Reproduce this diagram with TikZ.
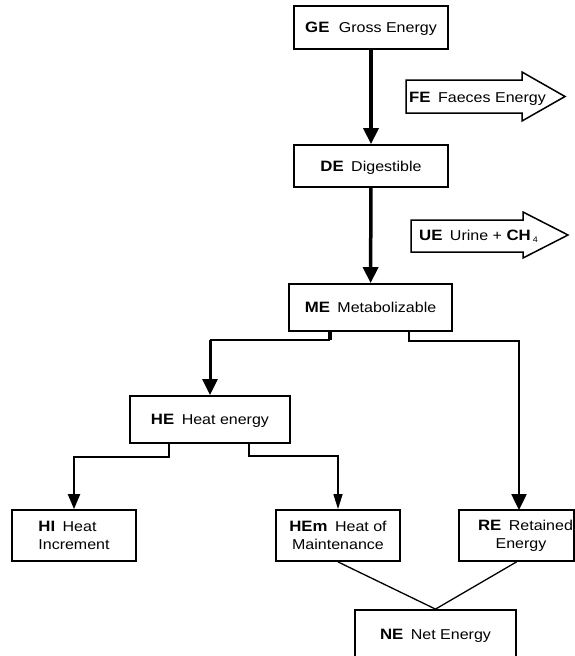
\documentclass[tikz,border=0pt]{standalone}
\usepackage{fontspec}
\setmainfont{Liberation Sans}[FakeStretch=1.12]
\usetikzlibrary{arrows.meta}
\newcommand{\abbr}[1]{{\fontsize{15}{18}\selectfont\bfseries #1}\hspace{3pt}}
\tikzset{
	box/.style={draw=black, line width=1.8pt, inner sep=0pt, font=\fontsize{14.3}{18}\selectfont},
	oneline/.style={text height=10.7pt, text depth=0pt},
	bigtip/.style={-{Triangle[length=16pt, width=15pt]}},
	midtip/.style={-{Triangle[length=15pt, width=12pt]}},
	thintip/.style={-{Triangle[length=15pt, width=9pt]}},
	blockarrow/.style={draw=black, line width=1.5pt, fill=white},
	arrowtext/.style={anchor=base west, inner sep=0pt, font=\fontsize{14.3}{18}\selectfont}
}

\begin{document}
\begin{tikzpicture}[x=1pt, y=-1pt]
		\path[use as bounding box, fill=white] (0, 0) rectangle (575, 656);
		\node [box, oneline, minimum width=154pt, minimum height=43pt] (GE) at (371, 27.5) {\abbr{GE}\hspace{2pt} Gross Energy\hspace{16pt}};
		\node [box, oneline, minimum width=154pt, minimum height=42pt] (DE) at (371, 166) {\abbr{DE} Digestible};
		\node [box, oneline, minimum width=163pt, minimum height=47pt] (ME) at (370.5, 307.5) {\abbr{ME} Metabolizable};
		\node [box, oneline, minimum width=160pt, minimum height=47pt] (HE) at (210, 419.5) {\abbr{HE} Heat energy};
		\node [box, align=left, minimum width=124pt, minimum height=51pt] (HI) at (74, 535.5) {\abbr{HI} Heat\\Increment};
		\node [box, align=center, minimum width=124pt, minimum height=51pt] (HEm) at (338, 535.5) {\abbr{HEm} Heat of\\Maintenance};
		\node [box, align=center, minimum width=115pt, minimum height=51pt] (RE) at (516.5, 535.5) {\hspace*{18pt}\abbr{RE} Retained\\\hspace*{9pt}Energy};
		\node [box, oneline, minimum width=161pt, minimum height=48pt] (NE) at (435.5, 634) {\abbr{NE} Net Energy\hspace{15pt}};

		\draw [blockarrow] (406, 80) -- (522, 80) -- (522, 72) -- (565, 96.5) -- (522, 121) -- (522, 113) -- (406, 113) -- cycle;
		\node [arrowtext] (FE) at (409, 102) {\abbr{FE} Faeces Energy};
		\draw [blockarrow] (411, 220) -- (523, 220) -- (523, 212) -- (568, 235) -- (523, 258) -- (523, 252) -- (411, 252) -- cycle;
		\node [arrowtext] (UE) at (419, 240) {\abbr{UE} Urine + {\fontsize{15}{18}\selectfont\bfseries CH}\hspace{2pt}\raisebox{-2pt}{\fontsize{8}{8}\selectfont 4}};

		\draw [line width=3.5pt, bigtip] (GE) -- (DE);
		\draw [line width=3.5pt, bigtip] (DE) -- (ME);

		\coordinate (meL) at (330, 340);
		\draw [line width=3.3pt] (ME.south -| meL) -- (meL);
		\draw [line width=1.2pt] (meL) -- (meL -| HE.north);
		\draw [line width=3pt, bigtip] (meL -| HE.north) -- (HE.north);

		\coordinate (meR) at (409, 341);
		\coordinate (reIn) at (519, 510);
		\draw [line width=2.5pt, bigtip] (ME.south -| meR) -- (meR) -- (meR -| reIn) -- (reIn);

		\coordinate (heL) at (169, 457);
		\draw [line width=2.2pt, midtip] (HE.south -| heL) -- (heL) -- (heL -| HI.north) -- (HI.north);
		\coordinate (heR) at (249, 456);
		\draw [line width=1.4pt, thintip] (HE.south -| heR) -- (heR) -- (heR -| HEm.north) -- (HEm.north);

		\draw [line width=1.3pt] (HEm.south) -- (NE.north);
		\draw [line width=1.3pt] (RE.south) -- (NE.north);
\end{tikzpicture}
\end{document}
